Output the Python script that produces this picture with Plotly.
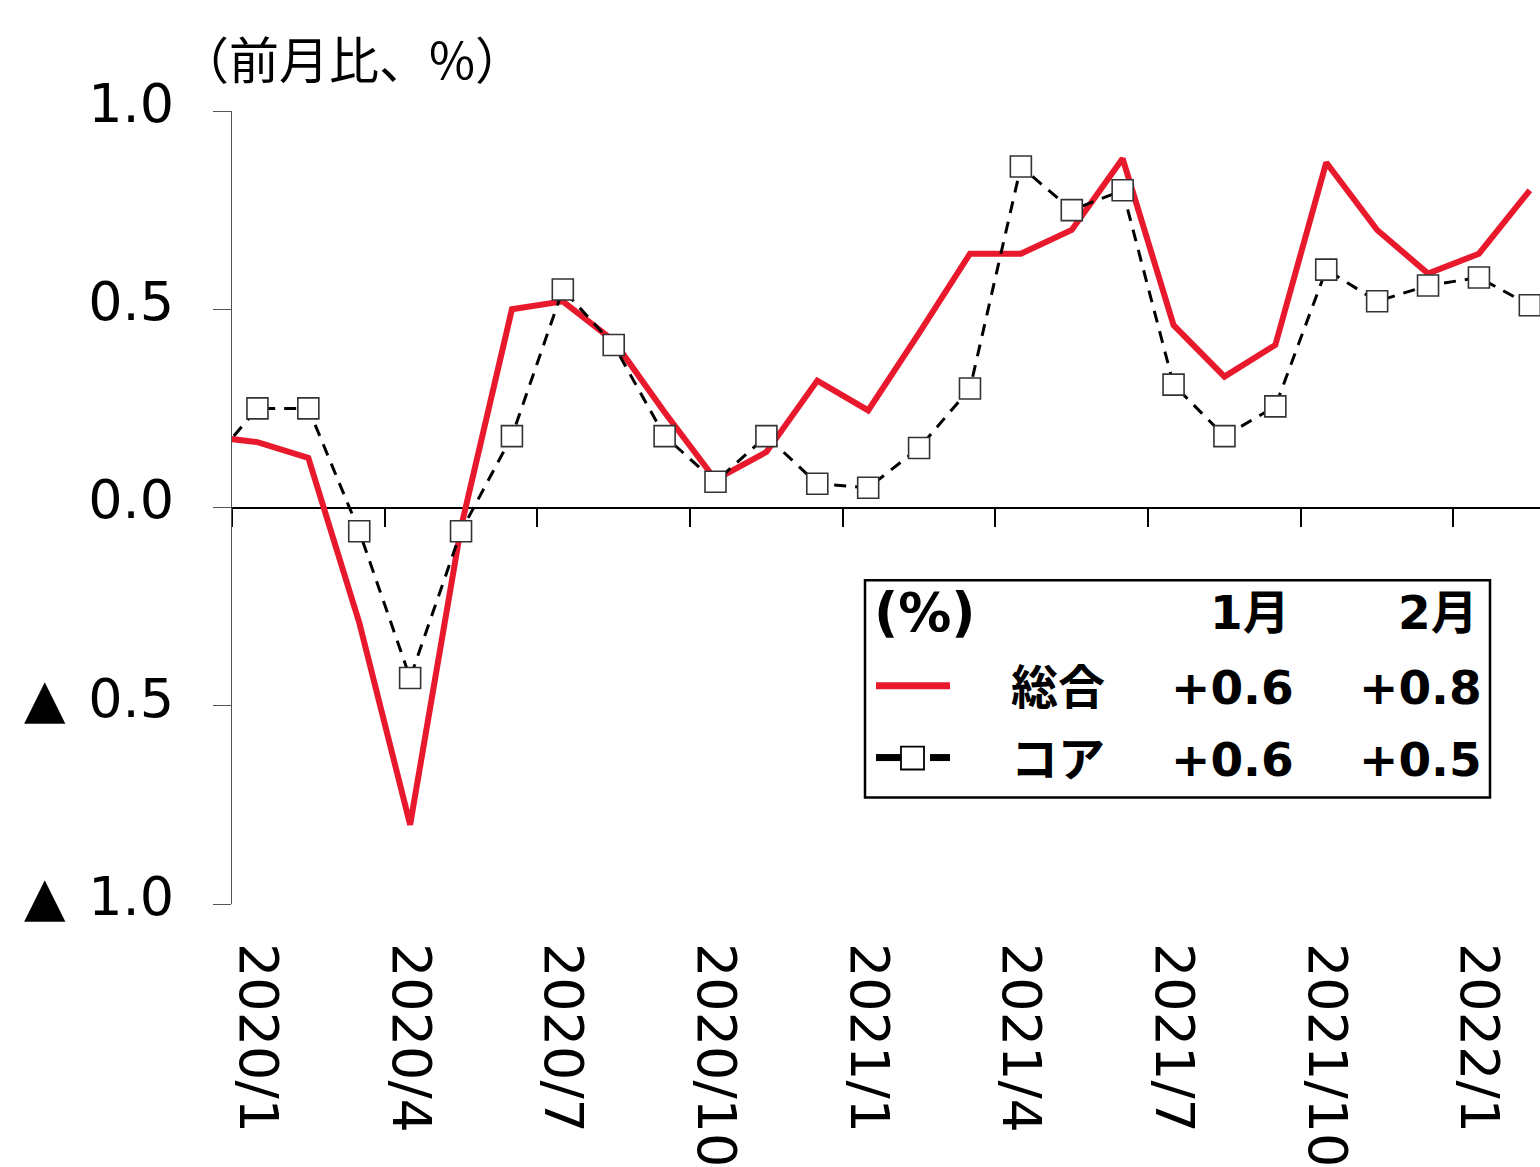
import plotly.graph_objects as go

# Monthly CPI change (month-on-month, %), 2019/12 - 2022/2
months = [
    "2019/12",
    "2020/1", "2020/2", "2020/3", "2020/4", "2020/5", "2020/6",
    "2020/7", "2020/8", "2020/9", "2020/10", "2020/11", "2020/12",
    "2021/1", "2021/2", "2021/3", "2021/4", "2021/5", "2021/6",
    "2021/7", "2021/8", "2021/9", "2021/10", "2021/11", "2021/12",
    "2022/1", "2022/2",
]
headline = [
    0.18,
    0.165, 0.125, -0.29, -0.80, -0.05, 0.50,
    0.52, 0.42, 0.24, 0.07, 0.14, 0.32,
    0.245, 0.44, 0.64, 0.64, 0.70, 0.88,
    0.46, 0.33, 0.41, 0.87, 0.70, 0.59,
    0.64, 0.80,
]
core = [
    0.10,
    0.25, 0.25, -0.06, -0.43, -0.06, 0.18,
    0.55, 0.41, 0.18, 0.065, 0.18, 0.06,
    0.05, 0.15, 0.30, 0.86, 0.75, 0.80,
    0.31, 0.18, 0.255, 0.60, 0.52, 0.56,
    0.58, 0.51,
]
series_names = ["総合", "コア"]
table_months = ["1月", "2月"]
y_ticks = [1.0, 0.5, 0.0, -0.5, -1.0]
y_tick_text = ["1.0", "0.5", "0.0", "▲ \u200a0.5", "▲ \u200a1.0"]

RED = "#E8192C"
W, H = 1540, 1167
L, R, T, B = 232, 0, 111, 260
PW, PH = W - L - R, H - T - B


def px(x):
    return (x - L) / PW


def py(y):
    return (H - B - y) / PH


# numeric month positions, 2020/1 = 0
xs = list(range(-1, len(months) - 1))
label_idx = [i for i in range(0, len(months) - 1, 3)]
label_pos = [xs[i + 1] for i in label_idx]
label_txt = [months[i + 1] for i in label_idx]
bounds = [p - 0.5 for p in label_pos]
xrange = [-0.5, 25.2]

fig = go.Figure()
fig.add_trace(go.Scatter(
    x=xs, y=headline, mode="lines", name=series_names[0],
    line=dict(color=RED, width=6), showlegend=False,
))
fig.add_trace(go.Scatter(
    x=xs, y=core, mode="lines+markers", name=series_names[1],
    line=dict(color="black", width=3, dash="12px,9px"),
    marker=dict(symbol="square", size=21, color="white",
                line=dict(color="#333333", width=1.6)),
    xaxis="x2", showlegend=False,
))

BASE = "DejaVu Sans, Noto Sans CJK JP"
fig.update_layout(
    width=W, height=H,
    margin=dict(l=L, r=R, t=T, b=B, pad=0),
    paper_bgcolor="white", plot_bgcolor="white",
    font=dict(family=BASE, color="black"),
    xaxis=dict(
        range=xrange, tickmode="array", tickvals=label_pos, ticktext=label_txt,
        tickangle=90, ticks="", showline=False, showgrid=False, zeroline=False,
        tickfont=dict(size=54), ticklabelstandoff=38,
    ),
    xaxis2=dict(
        range=xrange, overlaying="x", anchor="free", position=0.5,
        tickmode="array", tickvals=bounds, ticks="outside", ticklen=18,
        tickwidth=2, tickcolor="black", showline=True, linecolor="black",
        linewidth=2, showticklabels=False, showgrid=False, zeroline=False,
        layer="below traces",
    ),
    yaxis=dict(
        range=[-1, 1], tickmode="array", tickvals=y_ticks, ticktext=y_tick_text,
        ticks="outside", ticklen=18, tickwidth=1.2, tickcolor="#555555",
        showline=True, linecolor="#555555", linewidth=1.3,
        showgrid=False, zeroline=False, tickfont=dict(size=54),
        ticklabelstandoff=28, ticklabelshift=-8,
    ),
)

# unit caption
fig.add_annotation(
    xref="paper", yref="paper", x=px(177), y=py(57), xanchor="left",
    yanchor="middle", text="（前月比、%）", showarrow=False,
    font=dict(family="Noto Sans CJK JP", size=50, color="black"),
)

# summary table box
shapes = [
    dict(type="rect", xref="paper", yref="paper",
         x0=px(865), x1=px(1490), y0=py(582), y1=py(800),
         line=dict(color="black", width=2.5), fillcolor="white", layer="above"),
    dict(type="line", xref="paper", yref="paper",
         x0=px(876), x1=px(950), y0=py(688), y1=py(688),
         line=dict(color=RED, width=7), layer="above"),
    dict(type="line", xref="paper", yref="paper",
         x0=px(876), x1=px(902), y0=py(760), y1=py(760),
         line=dict(color="black", width=7), layer="above"),
    dict(type="line", xref="paper", yref="paper",
         x0=px(930), x1=px(950), y0=py(760), y1=py(760),
         line=dict(color="black", width=7), layer="above"),
    dict(type="rect", xref="paper", yref="paper",
         x0=px(901), x1=px(924), y0=py(772), y1=py(749),
         line=dict(color="black", width=1.8), fillcolor="white", layer="above"),
]
fig.update_layout(shapes=shapes)

TF = dict(family=BASE, size=47, color="black", weight="bold")


def cell(x, y, text, anchor, size=47):
    fig.add_annotation(xref="paper", yref="paper", x=px(x), y=py(y),
                       xanchor=anchor, yanchor="middle", text=text,
                       showarrow=False, font=dict(TF, size=size))


cell(872, 614, "(%)", "left", size=53)
cell(1292, 614, table_months[0], "right")
cell(1480, 614, table_months[1], "right")
rows = [(690, series_names[0], headline), (762, series_names[1], core)]
for yy, name, vals in rows:
    cell(1058, yy, name, "center")
    cell(1296, yy, f"{vals[-2]:+.1f}", "right")
    cell(1484, yy, f"{vals[-1]:+.1f}", "right")

fig.write_html("out.html")
